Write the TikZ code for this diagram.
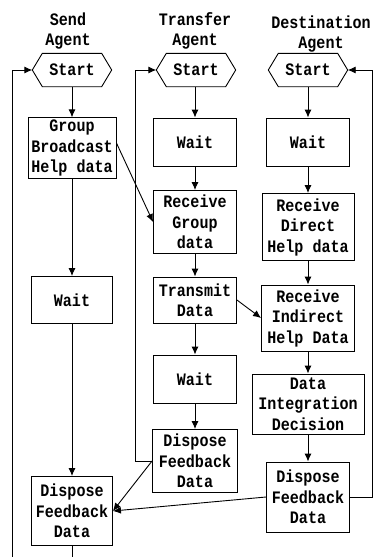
\documentclass[tikz,border=0pt]{standalone}
\usepackage{fontspec}
\newfontfamily\flowfont[FakeStretch=0.86]{Liberation Mono}
\usetikzlibrary{arrows.meta}
\begin{document}
\begin{tikzpicture}[x=1pt,y=-1pt,
  txt/.style={font=\flowfont\bfseries\fontsize{17.5}{20.5}\selectfont, align=center, inner sep=2pt},
  box/.style={txt, draw, line width=0.9pt},
  startbox/.style={txt, minimum width=79, minimum height=33},
  arr/.style={line width=0.9pt, -{Latex[length=8pt,width=7pt]}},
  link/.style={line width=0.9pt}]
\useasboundingbox (0,0) rectangle (373,557);
\clip (0,0) rectangle (373,557);

% column headings
\node[txt] (h1) at (68,31) {Send\\Agent};
\node[txt] (h2) at (195,31) {Transfer\\Agent};
\node[txt] (h3) at (321,34) {Destination\\Agent};

% start terminals (hexagons drawn below)
\node[startbox] (s1) at (72,70) {Start};
\node[startbox] (s2) at (196,70) {Start};
\node[startbox] (s3) at (308,70) {Start};
\foreach \s in {s1,s2,s3}
  \draw[link] (\s.west) -- ([xshift=10pt]\s.north west) -- ([xshift=-10pt]\s.north east)
    -- (\s.east) -- ([xshift=-10pt]\s.south east) -- ([xshift=10pt]\s.south west) -- cycle;

% send agent
\node[box, minimum width=88, minimum height=60] (sg) at (72,148) {Group\\Broadcast\\Help data};
\node[box, minimum width=81, minimum height=47] (sw) at (72,300) {Wait};
\node[box, minimum width=81, minimum height=69] (sd) at (72,511) {Dispose\\Feedback\\Data};

% transfer agent
\node[box, minimum width=83, minimum height=48] (tw) at (195,142) {Wait};
\node[box, minimum width=83, minimum height=63] (tr) at (195,222) {Receive\\Group\\data};
\node[box, minimum width=83, minimum height=46] (tt) at (195,300) {Transmit\\Data};
\node[box, minimum width=83, minimum height=48] (tw2) at (195,379) {Wait};
\node[box, minimum width=85, minimum height=63] (td) at (195,461) {Dispose\\Feedback\\Data};

% destination agent
\node[box, minimum width=83, minimum height=48] (dw) at (308,142) {Wait};
\node[box, minimum width=92, minimum height=67] (dr) at (308,227) {Receive\\Direct\\Help data};
\node[box, minimum width=93, minimum height=66] (di) at (308,318) {Receive\\Indirect\\Help Data};
\node[box, minimum width=112, minimum height=60] (dd) at (308,404) {Data\\Integration\\Decision};
\node[box, minimum width=83, minimum height=70] (dx) at (308,497) {Dispose\\Feedback\\Data};

% vertical flow
\draw[arr] (s1.south) -- (sg.north);
\draw[arr] (sg.south) -- (sw.north);
\draw[arr] (sw.south) -- (sd.north);
\draw[arr] (s2.south -| tw.north) -- (tw.north);
\draw[arr] (tw.south) -- (tr.north);
\draw[arr] (tr.south) -- (tt.north);
\draw[arr] (tt.south) -- (tw2.north);
\draw[arr] (tw2.south) -- (td.north);
\draw[arr] (s3.south) -- (dw.north);
\draw[arr] (dw.south) -- (dr.north);
\draw[arr] (dr.south) -- (di.north);
\draw[arr] (di.south) -- (dd.north);
\draw[arr] (dd.south) -- (dx.north);

% messages between agents
\draw[arr] ([yshift=5pt]sg.east) -- (tr.west);
\draw[arr] (tt.east) -- (di.west);
\draw[arr] (td.west) -- (sd.east);
\draw[arr] (dx.west) -- (sd.east);

% feedback loops back to the start terminals
\coordinate (lb) at (12,575);
\draw[arr] (sd.south) -- (sd.south |- lb) -- (lb) |- (s1.west);
\coordinate (lt) at (135,461);
\draw[arr] (td.west) -- (lt) |- (s2.west);
\coordinate (ld) at (372,497);
\draw[arr] (dx.east) -- (ld) |- (s3.east);
\end{tikzpicture}
\end{document}
